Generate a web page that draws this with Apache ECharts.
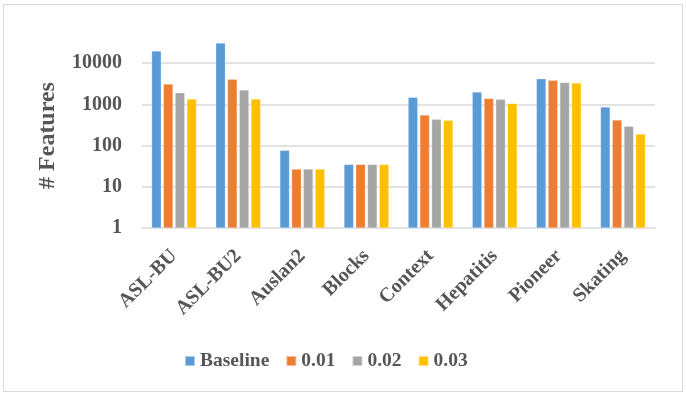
<!DOCTYPE html>
<html>
<head>
<meta charset="utf-8">
<script src="https://cdn.jsdelivr.net/npm/echarts@6/dist/echarts.min.js"></script>
<style>
  html, body { margin: 0; padding: 0; background: #fff; }
  #chart { width: 686px; height: 395px; position: relative; }
  #frame { position: absolute; left: 3px; top: 4px; width: 678px; height: 386px; border: 1px solid #d9d9d9; pointer-events: none; }
</style>
</head>
<body>
<div id="chart"></div>
<div id="frame"></div>
<script>
const categories = ['ASL-BU', 'ASL-BU2', 'Auslan2', 'Blocks', 'Context', 'Hepatitis', 'Pioneer', 'Skating'];
const seriesNames = ['Baseline', '0.01', '0.02', '0.03'];
const baseline = [19800, 30900, 77, 35, 1490, 2000, 4200, 865];
const t001 = [3130, 4070, 27, 35, 553, 1400, 3840, 418];
const t002 = [1920, 2240, 27, 35, 435, 1330, 3430, 294];
const t003 = [1350, 1350, 27, 35, 411, 1060, 3310, 191];
const colors = ['#5b9bd5', '#ed7d31', '#a5a5a5', '#ffc000'];

const font = '"Liberation Serif", "Times New Roman", serif';
const textColor = '#555555';
const chart = echarts.init(document.getElementById('chart'));
const allData = [baseline, t001, t002, t003];

chart.setOption({
  animation: false,
  color: colors,
  grid: { left: 142, right: 31, top: 43, bottom: 167 },
  legend: {
    top: 346,
    left: 179,
    itemWidth: 10,
    itemHeight: 10,
    itemGap: 16,
    icon: 'rect',
    textStyle: { fontFamily: font, fontWeight: 'bold', fontSize: 19.5, color: textColor },
    data: seriesNames
  },
  xAxis: {
    type: 'category',
    data: categories,
    axisLine: { lineStyle: { color: '#d9d9d9', width: 1.5 } },
    axisTick: { show: false },
    axisLabel: { rotate: 45, interval: 0, margin: 25, fontFamily: font, fontWeight: 'bold', fontSize: 20, color: textColor }
  },
  yAxis: {
    type: 'log',
    logBase: 10,
    min: 1,
    max: 31000,
    name: '# Features',
    nameLocation: 'middle',
    nameGap: 82,
    nameTextStyle: { fontFamily: font, fontWeight: 'bold', fontSize: 24, color: textColor },
    axisLine: { show: false },
    axisTick: { show: false },
    axisLabel: {
      showMaxLabel: false,
      margin: 20,
      fontFamily: font, fontWeight: 'bold', fontSize: 20, color: textColor,
      formatter: v => {
        const e = Math.log10(v);
        return Math.abs(e - Math.round(e)) < 1e-6 ? String(Math.round(v)) : '';
      }
    },
    splitLine: { showMaxLine: false, showMinLine: false, lineStyle: { color: '#d9d9d9', width: 1.5 } }
  },
  series: seriesNames.map((n, i) => ({
    name: n,
    type: 'bar',
    data: allData[i],
    barGap: '22%',
    barCategoryGap: '30%',
    itemStyle: { borderColor: 'rgba(255,255,255,0.5)', borderWidth: 0.5 }
  }))
});
</script>
</body>
</html>
